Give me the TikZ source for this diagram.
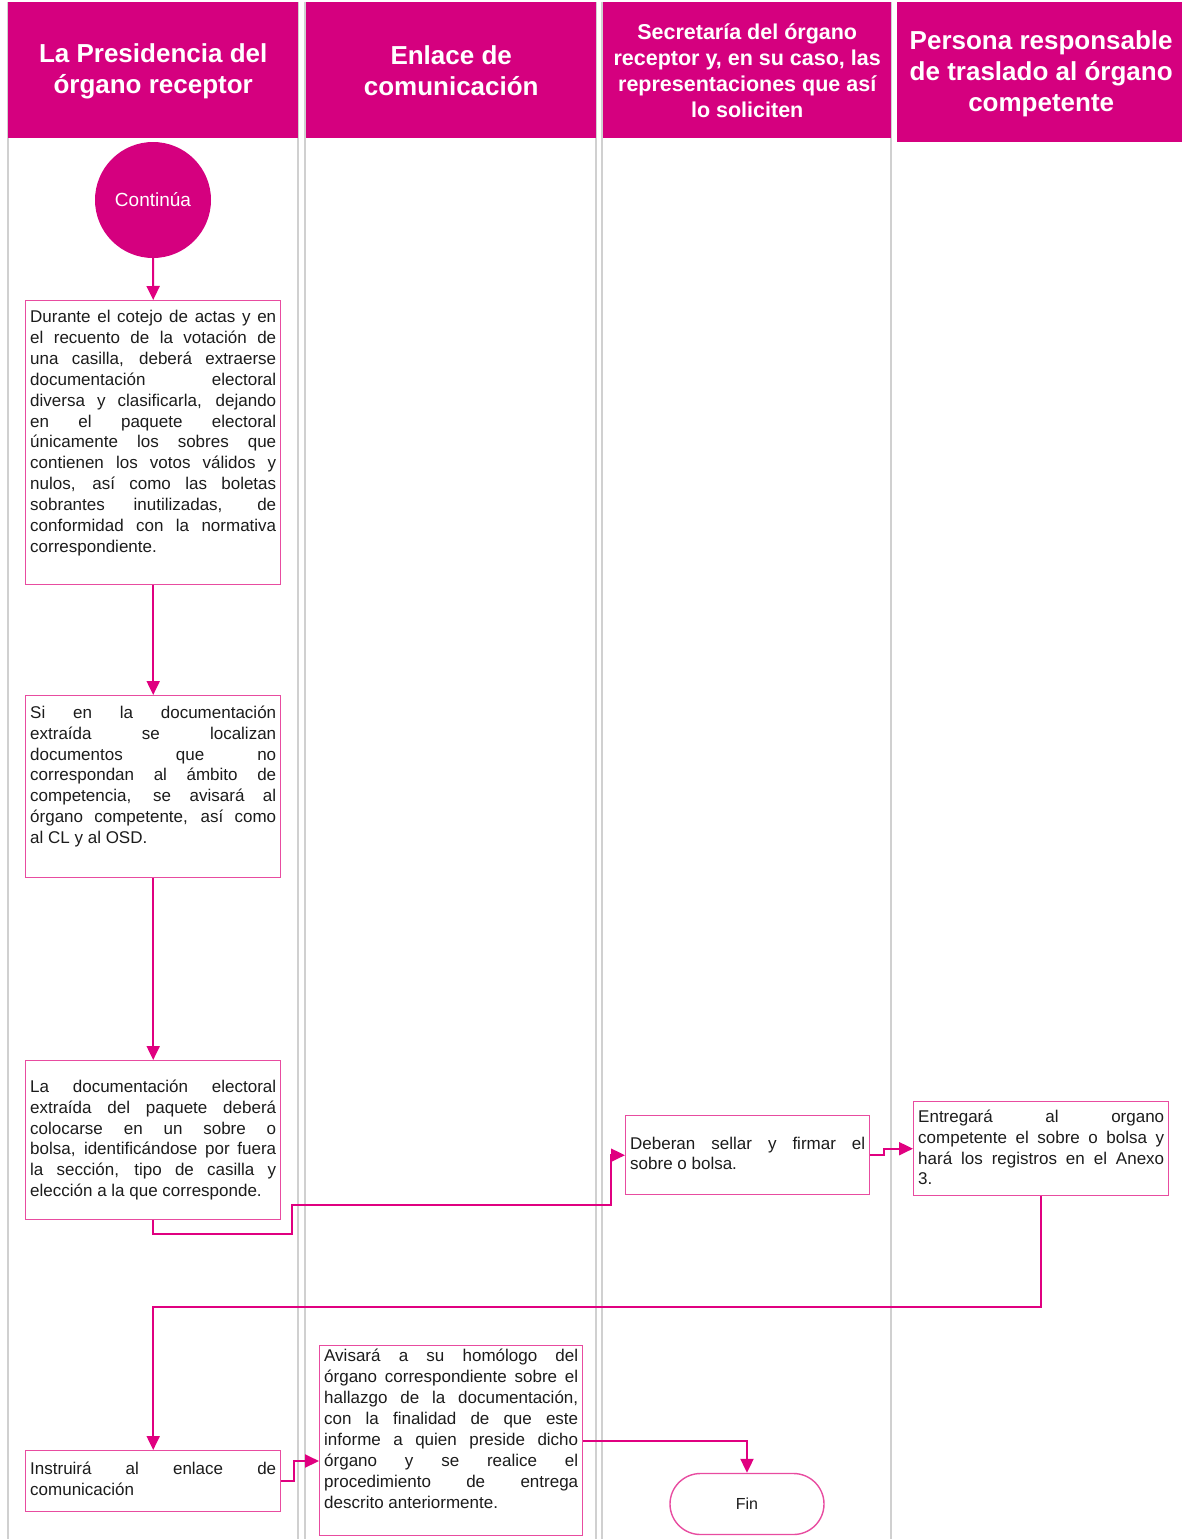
\documentclass[tikz,border=0pt]{standalone}
\usepackage{fontspec}
\setmainfont{Liberation Sans}
\usetikzlibrary{arrows.meta,shapes.misc,calc}
\definecolor{mag}{RGB}{213,0,127}
\definecolor{boxpink}{RGB}{232,76,160}
\definecolor{linepink}{RGB}{224,0,128}
\definecolor{lanegray}{RGB}{208,208,208}
\definecolor{textc}{RGB}{28,28,28}
\tolerance=10000
\hbadness=10000
\hyphenpenalty=10000
\begin{document}
\begin{tikzpicture}[x=1pt,y=-1pt,
  hdr/.style={fill=mag,draw=none,anchor=north west,inner sep=0},
  hdrtext/.style={text=white,inner sep=0,align=center,
    font=\bfseries\fontsize{26}{31}\selectfont},
  frame/.style={draw=boxpink,line width=1.4pt,fill=white,inner sep=0,anchor=north west},
  txt/.style={inner sep=0,anchor=north west,align=justify,text=textc,
    font=\fontsize{17}{20.9}\selectfont},
  flow/.style={draw=linepink,line width=2pt,-{Triangle[length=14pt,width=13pt]}},
  lane/.style={draw=lanegray,line width=1.6pt}]

\useasboundingbox (0,0) rectangle (1181,1539);
\fill[white] (0,0) rectangle (1181,1539);

% swimlane borders
\foreach \x in {8,298,305,596,602,891}
  \draw[lane] (\x,2) -- (\x,1539);

% lane headers
\node[hdr,minimum width=290,minimum height=136] (h1) at (8,2) {};
\node[hdrtext] (h1t) at ($(h1.center)+(0,1.5)$) {La Presidencia del\\órgano receptor};
\node[hdr,minimum width=290,minimum height=136] (h2) at (306,2) {};
\node[hdrtext] (h2t) at ($(h2.center)+(0,1)$) {Enlace de\\comunicación};
\node[hdr,minimum width=288,minimum height=136] (h3) at (603,2) {};
\node[hdrtext,font=\bfseries\fontsize{21.5}{26}\selectfont] (h3t) at ($(h3.center)+(0,0.5)$)
  {Secretaría del órgano\\receptor y, en su caso, las\\representaciones que así\\lo soliciten};
\node[hdr,minimum width=288,minimum height=140] (h4) at (897,2) {};
\node[hdrtext] (h4t) at ($(h4.center)+(0,1.5)$)
  {Persona responsable\\de traslado al órgano\\competente};

% start connector
\node[circle,fill=mag,minimum size=116,inner sep=0,text=white,
  font=\fontsize{19}{22}\selectfont] (start) at (153,200) {Continúa};

% process boxes
\node[frame,minimum width=255,minimum height=284] (b1) at (25,300) {};
\node[txt,text width=246] (t1) at (30,310) {Durante el cotejo de actas y en\linebreak
el recuento de la votación de\linebreak
una casilla, deberá extraerse\linebreak
documentación electoral\linebreak
diversa y clasificarla, dejando\linebreak
en el paquete electoral\linebreak
únicamente los sobres que\linebreak
contienen los votos válidos y\linebreak
nulos, así como las boletas\linebreak
sobrantes inutilizadas, de\linebreak
conformidad con la normativa\linebreak
correspondiente.};

\node[frame,minimum width=255,minimum height=182] (b2) at (25,695) {};
\node[txt,text width=246] (t2) at (30,705.5) {Si en la documentación\linebreak
extraída se localizan\linebreak
documentos que no\linebreak
correspondan al ámbito de\linebreak
competencia, se avisará al\linebreak
órgano competente, así como\linebreak
al CL y al OSD.};

\node[frame,minimum width=255,minimum height=159] (b3) at (25,1060) {};
\node[txt,text width=246] (t3) at (30,1079.5) {La documentación electoral\linebreak
extraída del paquete deberá\linebreak
colocarse en un sobre o\linebreak
bolsa, identificándose por fuera\linebreak
la sección, tipo de casilla y\linebreak
elección a la que corresponde.};

\node[frame,minimum width=244,minimum height=79] (b4) at (625,1115) {};
\node[txt,text width=235] (t4) at (630,1136.5) {Deberan sellar y firmar el\linebreak
sobre o bolsa.};

\node[frame,minimum width=255,minimum height=94] (b5) at (913,1101) {};
\node[txt,text width=246] (t5) at (918,1109.5) {Entregará al organo\linebreak
competente el sobre o bolsa y\linebreak
hará los registros en el Anexo\linebreak
3.};

\node[frame,minimum width=255,minimum height=61] (b6) at (25,1450) {};
\node[txt,text width=246] (t6) at (30,1461.5) {Instruirá al enlace de\linebreak
comunicación};

\node[frame,minimum width=263,minimum height=190] (b7) at (319,1345) {};
\node[txt,text width=254] (t7) at (324,1349) {Avisará a su homólogo del\linebreak
órgano correspondiente sobre el\linebreak
hallazgo de la documentación,\linebreak
con la finalidad de que este\linebreak
informe a quien preside dicho\linebreak
órgano y se realice el\linebreak
procedimiento de entrega\linebreak
descrito anteriormente.};

% terminator
\node[rounded rectangle,draw=boxpink,line width=1.4pt,fill=white,
  minimum width=154,minimum height=61,inner sep=0,text=textc,
  font=\fontsize{16}{19}\selectfont] (fin) at (747,1504) {Fin};

% flow connectors
\draw[flow] (start.south) -- (b1.north);
\draw[flow] (b1.south) -- (b2.north);
\draw[flow] (b2.south) -- (b3.north);
\draw[flow] (b3.south) -- ++(0,14) -| (292,1205) -- (611,1205) |- (b4.west);
\draw[flow] (b4.east) -- ++(14,0) |- (b5.west);
\draw[flow] (b5.south) -- ++(0,111) -| (b6.north);
\draw[flow] (b6.east) -- ++(13,0) |- ($(b7.north west)+(0,116)$);
\draw[flow] (b7.east) -| (fin.north);
\end{tikzpicture}
\end{document}
